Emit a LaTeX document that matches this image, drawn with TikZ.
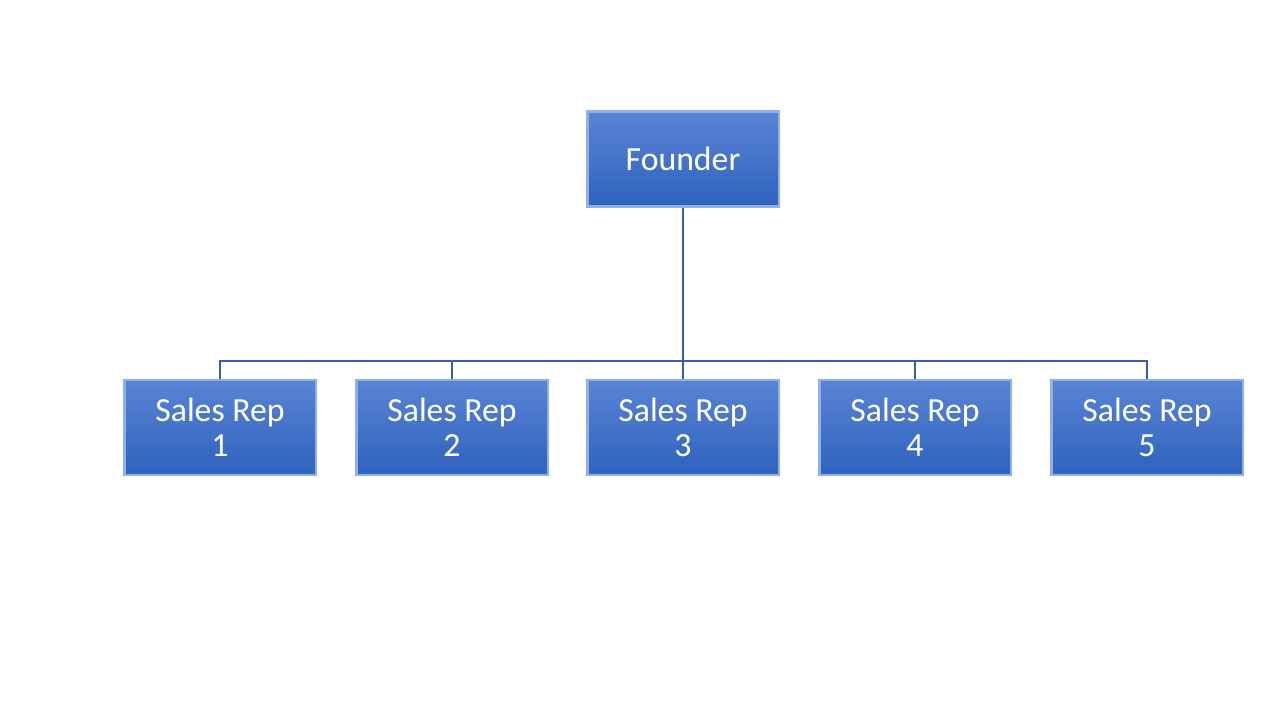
\documentclass[tikz,border=0pt]{standalone}
\usepackage{fontspec}
\setmainfont{Carlito}
\usepackage{xcolor}
\usepackage{tikz}
\usetikzlibrary{positioning}
\definecolor{boxtop}{HTML}{5A84D4}
\definecolor{boxbot}{HTML}{2E62BE}
\definecolor{boxedge}{HTML}{8FB0E8}
\definecolor{linkblue}{HTML}{3A5DA8}

\begin{document}
\begin{tikzpicture}[x=0.01cm,y=-0.01cm,
  every node/.style={font=\fontsize{9.6pt}{11pt}\selectfont},
  rolebox/.style={rectangle,draw=boxedge,line width=0.6pt,top color=boxtop,bottom color=boxbot,
    text=white,minimum width=1.91cm,minimum height=0.95cm,inner sep=0pt,align=center}]

\useasboundingbox (0,0) rectangle (1280,720);

% top of the chart
\node[rolebox] (founder) at (683,159) {Founder};

% sales reps
\foreach \i/\x in {1/220,2/452,3/683,4/915,5/1147}{
  \node[rolebox] (rep\i) at (\x,427.5) {Sales Rep\\[-1pt]\i};
}

% links
\coordinate (bus) at (683,361);
\draw[linkblue,line width=0.6pt] (founder.south) -- (bus);
\foreach \i in {1,...,5}{
  \draw[linkblue,line width=0.6pt] (bus) -| (rep\i.north);
}
\end{tikzpicture}
\end{document}
